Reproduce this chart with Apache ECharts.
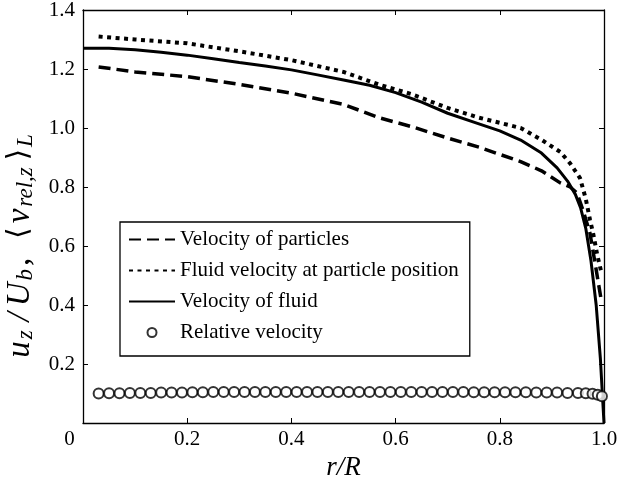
<!DOCTYPE html>
<html>
<head>
<meta charset="utf-8">
<script src="https://cdn.jsdelivr.net/npm/echarts@6/dist/echarts.min.js"></script>
<style>
html,body{margin:0;padding:0;background:#fff;}
#c{width:620px;height:489px;}
</style>
</head>
<body>
<div id="c"></div>
<script>
// Velocity of particles (dashed)
const particlesX = [0.03, 0.1, 0.2, 0.3, 0.4, 0.5, 0.57, 0.63, 0.7, 0.76, 0.84, 0.88, 0.916, 0.935, 0.948, 0.96, 0.973, 0.984, 0.994];
const particlesY = [1.207, 1.19, 1.174, 1.148, 1.118, 1.08, 1.034, 1.005, 0.966, 0.935, 0.886, 0.855, 0.814, 0.80, 0.78, 0.72, 0.644, 0.53, 0.424];
// Fluid velocity at particle position (dotted)
const fluidAtPX = [0.03, 0.1, 0.2, 0.3, 0.4, 0.5, 0.57, 0.63, 0.7, 0.76, 0.84, 0.88, 0.916, 0.935, 0.954, 0.965, 0.973, 0.979, 0.987, 0.995];
const fluidAtPY = [1.31, 1.30, 1.287, 1.26, 1.23, 1.19, 1.146, 1.115, 1.068, 1.035, 1.0, 0.96, 0.919, 0.88, 0.83, 0.76, 0.69, 0.644, 0.57, 0.51];
// Velocity of fluid (solid)
const fluidX = [0, 0.05, 0.1, 0.15, 0.2, 0.25, 0.3, 0.35, 0.4, 0.45, 0.5, 0.55, 0.6, 0.65, 0.7, 0.75, 0.8, 0.84, 0.88, 0.91, 0.93, 0.945, 0.955, 0.965, 0.975, 0.985, 0.993, 1.0];
const fluidY = [1.27, 1.27, 1.265, 1.257, 1.247, 1.235, 1.222, 1.21, 1.197, 1.18, 1.163, 1.145, 1.12, 1.088, 1.05, 1.02, 0.99, 0.959, 0.915, 0.865, 0.82, 0.775, 0.73, 0.66, 0.55, 0.40, 0.22, 0.0];
// Relative velocity (circles)
const relX = [0.03, 0.05, 0.07, 0.09, 0.11, 0.13, 0.15, 0.17, 0.19, 0.21, 0.23, 0.25, 0.27, 0.29, 0.31, 0.33, 0.35, 0.37, 0.39, 0.41, 0.43, 0.45, 0.47, 0.49, 0.51, 0.53, 0.55, 0.57, 0.59, 0.61, 0.63, 0.65, 0.67, 0.69, 0.71, 0.73, 0.75, 0.77, 0.79, 0.81, 0.83, 0.85, 0.87, 0.89, 0.91, 0.93, 0.95, 0.965, 0.978, 0.988, 0.996];
const relY = [0.100, 0.101, 0.101, 0.102, 0.102, 0.102, 0.103, 0.103, 0.103, 0.104, 0.104, 0.105, 0.105, 0.105, 0.105, 0.105, 0.105, 0.105, 0.105, 0.105, 0.105, 0.105, 0.105, 0.105, 0.105, 0.105, 0.105, 0.105, 0.105, 0.105, 0.105, 0.105, 0.105, 0.105, 0.105, 0.105, 0.104, 0.104, 0.104, 0.104, 0.104, 0.104, 0.103, 0.103, 0.103, 0.102, 0.102, 0.101, 0.099, 0.096, 0.091];

const xTicks = [0, 0.2, 0.4, 0.6, 0.8, 1.0];
const yTicks = [0.2, 0.4, 0.6, 0.8, 1.0, 1.2, 1.4];

const names = ['Velocity of particles', 'Fluid velocity at particle position', 'Velocity of fluid', 'Relative velocity'];

function zip(a, b) { return a.map((v, i) => [v, b[i]]); }

const FONT = 'Liberation Serif';
const chart = echarts.init(document.getElementById('c'), null, {renderer: 'canvas'});

const axisLineStyle = {color: '#000', width: 1.3};
const tickStyle = {show: true, inside: true, length: 5, lineStyle: {color: '#000', width: 1}};
const hiddenDot = {color: 'rgba(0,0,0,0)', borderColor: 'rgba(0,0,0,0)', borderWidth: 0, opacity: 0};

const option = {
  animation: false,
  backgroundColor: '#fff',
  grid: {left: 83, right: 16, top: 10, bottom: 66, containLabel: false, outerBoundsMode: 'none'},
  xAxis: [{
    type: 'value', min: 0, max: 1, interval: 0.2, position: 'bottom',
    axisLine: {show: true, onZero: false, lineStyle: axisLineStyle},
    axisTick: tickStyle,
    splitLine: {show: false},
    axisLabel: {
      color: '#000', fontFamily: FONT, fontSize: 21, margin: 6,
      showMinLabel: true, showMaxLabel: true,
      formatter: v => (Math.abs(v) < 1e-9 ? '{z|0}' : v.toFixed(1)),
      rich: {z: {fontFamily: FONT, fontSize: 21, color: '#000', padding: [0, 27, 0, 0]}}
    },
    name: 'r/R', nameLocation: 'middle', nameGap: 30,
    nameTextStyle: {color: '#000', fontFamily: FONT, fontSize: 27, fontStyle: 'italic'}
  }, {
    type: 'value', min: 0, max: 1, interval: 0.2, position: 'top',
    axisLine: {show: true, onZero: false, lineStyle: axisLineStyle},
    axisTick: tickStyle,
    axisLabel: {show: false}, splitLine: {show: false}
  }],
  yAxis: [{
    type: 'value', min: 0, max: 1.4, interval: 0.2, position: 'left',
    axisLine: {show: true, onZero: false, lineStyle: axisLineStyle},
    axisTick: tickStyle,
    splitLine: {show: false},
    axisLabel: {
      color: '#000', fontFamily: FONT, fontSize: 21, margin: 8,
      formatter: v => (Math.abs(v) < 1e-9 ? '' : v.toFixed(1))
    },
    name: '{i|u}{s|z}{sl|/}{i|U}{s|b}{n|,}{lb|⟨}{i|v}{s|rel,z}{rb|⟩}{e|L}',
    nameLocation: 'middle', nameGap: 45, nameRotate: 90,
    nameTextStyle: {
      color: '#000', fontFamily: FONT, fontSize: 33,
      rich: {
        i: {fontFamily: FONT, fontSize: 33, fontStyle: 'italic', color: '#000', padding: [0, 1, 0, 1]},
        sl: {fontFamily: FONT, fontSize: 33, fontStyle: 'italic', color: '#000', padding: [0, 5, 0, 6]},
        n: {fontFamily: FONT, fontSize: 33, color: '#000', padding: [0, 19, 0, 0]},
        lb: {fontFamily: 'DejaVu Serif', fontSize: 29, color: '#000', padding: [0, 3, 0, 0]},
        rb: {fontFamily: 'DejaVu Serif', fontSize: 29, color: '#000', padding: [0, 1, 0, 4]},
        s: {fontFamily: FONT, fontSize: 23, fontStyle: 'italic', color: '#000', verticalAlign: 'bottom', padding: [13, 3, 0, 1]},
        e: {fontFamily: FONT, fontSize: 23, fontStyle: 'italic', color: '#000', verticalAlign: 'bottom', padding: [13, 60, 0, 1]}
      }
    }
  }, {
    type: 'value', min: 0, max: 1.4, interval: 0.2, position: 'right',
    axisLine: {show: true, onZero: false, lineStyle: axisLineStyle},
    axisTick: tickStyle,
    axisLabel: {show: false}, splitLine: {show: false}
  }],
  legend: {
    orient: 'vertical', left: 120, top: 222,
    data: [
      {name: names[0], itemStyle: hiddenDot},
      {name: names[1], itemStyle: hiddenDot},
      {name: names[2], itemStyle: hiddenDot},
      {name: names[3], itemStyle: {color: '#fff', borderColor: '#000', borderWidth: 2}}
    ],
    itemWidth: 46, itemHeight: 9, itemGap: 10,
    padding: [7, 11, 13, 8],
    borderColor: '#000', borderWidth: 1.3, backgroundColor: '#fff',
    textStyle: {color: '#000', fontFamily: FONT, fontSize: 21},
    selectedMode: false
  },
  series: [{
    name: names[0], type: 'line', data: zip(particlesX, particlesY),
    symbol: 'none', lineStyle: {color: '#000', width: 3.5, type: [12, 6], cap: 'butt'},
    itemStyle: {color: '#000'}, z: 3
  }, {
    name: names[1], type: 'line', data: zip(fluidAtPX, fluidAtPY),
    symbol: 'none', lineStyle: {color: '#000', width: 4, type: [4, 4.5], cap: 'butt'},
    itemStyle: {color: '#000'}, z: 3
  }, {
    name: names[2], type: 'line', data: zip(fluidX, fluidY),
    symbol: 'none', lineStyle: {color: '#000', width: 3, type: 'solid'},
    itemStyle: {color: '#000'}, z: 4
  }, {
    name: names[3], type: 'scatter', data: zip(relX, relY),
    symbol: 'circle', symbolSize: 10,
    itemStyle: {color: '#fff', borderColor: '#000', borderWidth: 2}, z: 5
  }]
};
chart.setOption(option);
</script>
</body>
</html>
